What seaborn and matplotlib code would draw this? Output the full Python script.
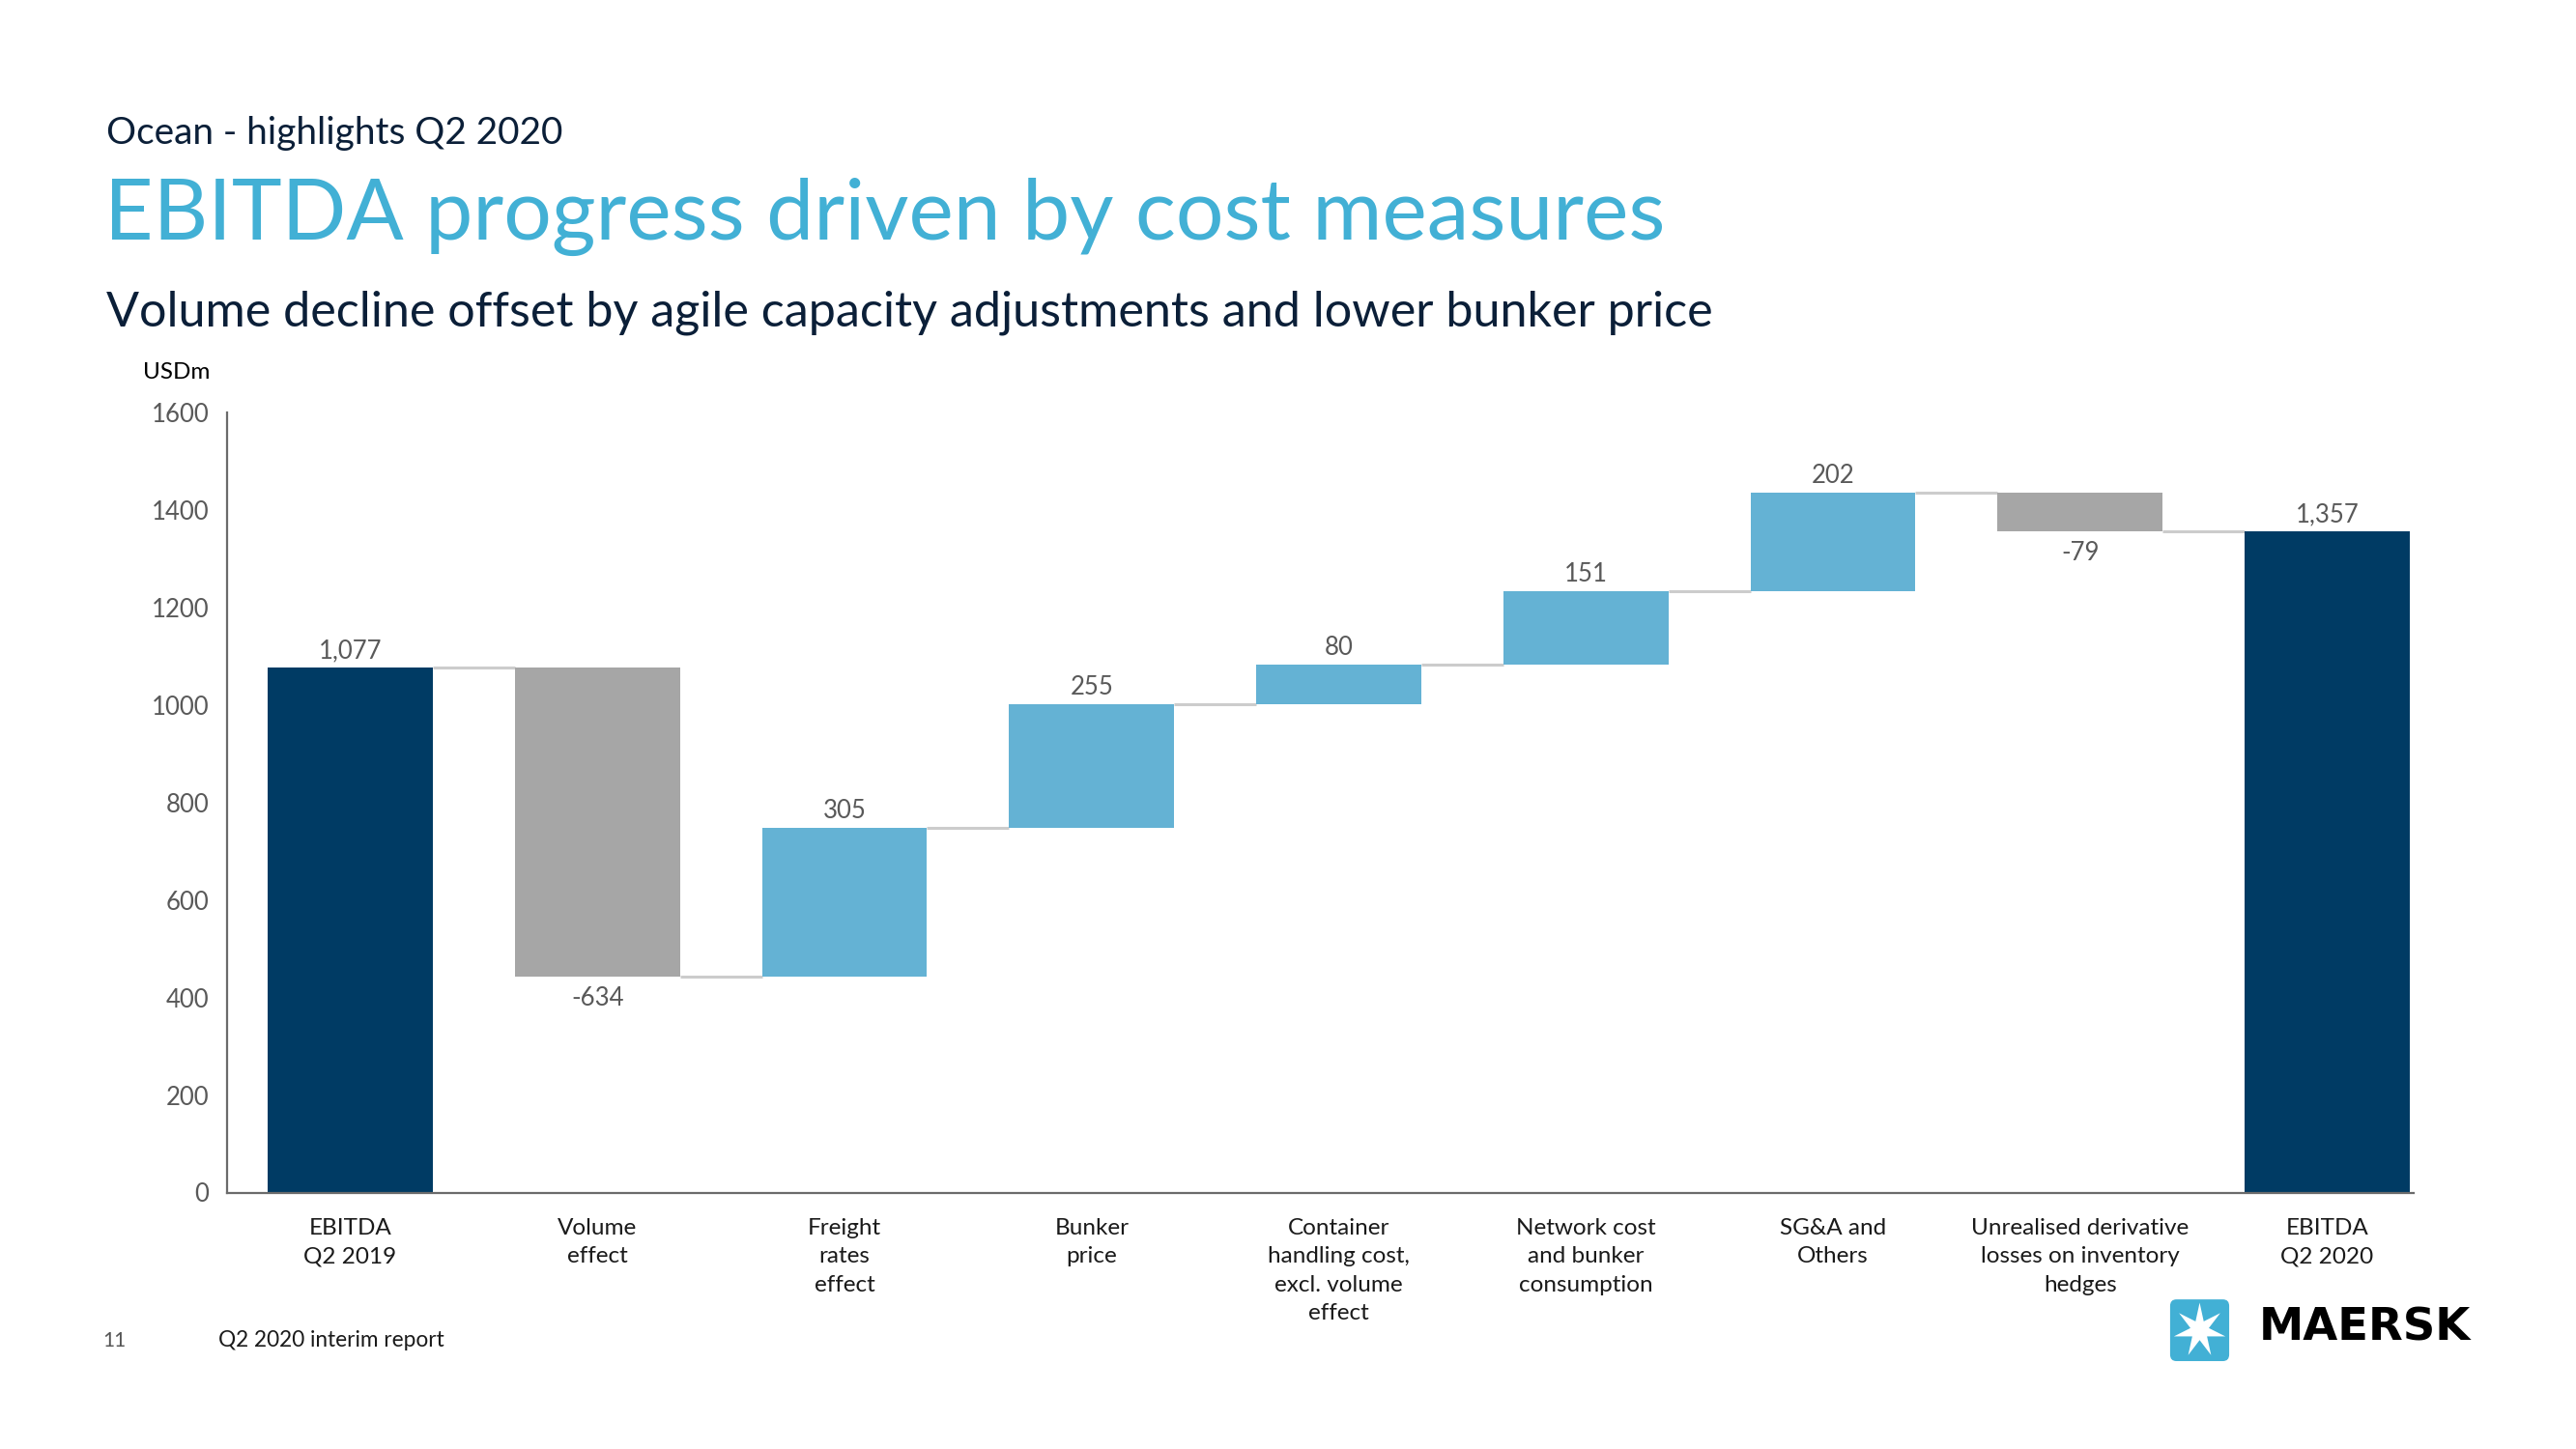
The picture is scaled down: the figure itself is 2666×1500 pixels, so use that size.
#%% Biblioteke
import numpy as np
import pandas as pd
import matplotlib.pyplot as plt
from matplotlib.patches import FancyBboxPatch, Polygon
import seaborn as sns

#%% Podaci
categories = ['EBITDA\nQ2 2019', 'Volume\neffect', 'Freight\nrates\neffect', 'Bunker\nprice',
              'Container\nhandling cost,\nexcl. volume\neffect', 'Network cost\nand bunker\nconsumption',
              'SG&A and\nOthers', 'Unrealised derivative\nlosses on inventory\nhedges', 'EBITDA\nQ2 2020']
values = [1077, -634, 305, 255, 80, 151, 202, -79, 1357]
kinds = ['total', 'delta', 'delta', 'delta', 'delta', 'delta', 'delta', 'delta', 'total']
value_labels = ['1,077', '-634', '305', '255', '80', '151', '202', '-79', '1,357']
yticks = [0, 200, 400, 600, 800, 1000, 1200, 1400, 1600]

navy = '#003B64'
light_blue = '#64B2D4'
grey = '#A6A6A6'
maersk_blue = '#42B0D5'
dark_text = '#0B1F38'

#%% Racunanje pozicija waterfall barova
bottoms, heights, levels = [], [], []
running = 0
for v, k in zip(values, kinds):
    if k == 'total':
        bottoms.append(0)
        heights.append(v)
        running = v
    else:
        start = running
        running = running + v
        bottoms.append(min(start, running))
        heights.append(abs(v))
    levels.append(running)

colors = [navy if k == 'total' else (light_blue if v > 0 else grey) for v, k in zip(values, kinds)]

df = pd.DataFrame({'kategorija': categories, 'visina': heights, 'dno': bottoms})

#%% Crtanje
sns.set_style('white')
plt.rcParams['font.family'] = ['Lato', 'DejaVu Sans']

fig = plt.figure(figsize=(26.66, 15), dpi=100)
ax = fig.add_axes([0.088, 0.177, 0.849, 0.538])

sns.barplot(data=df, x='kategorija', y='visina', order=categories, bottom=np.array(bottoms),
            width=0.667, color=navy, errorbar=None, saturation=1, ax=ax, zorder=2)
for patch, c in zip(ax.patches, colors):
    patch.set_facecolor(c)
    patch.set_edgecolor('none')

# konektori izmedju barova
half = 0.667 / 2
for i in range(len(values) - 1):
    ax.plot([i + half, i + 1 - half], [levels[i], levels[i]], color='#CCCCCC', lw=2.2,
            solid_capstyle='butt', zorder=1)

# oznake vrednosti
for i, (v, k, lab) in enumerate(zip(values, kinds, value_labels)):
    top = bottoms[i] + heights[i]
    if v >= 0:
        t = ax.annotate(lab, (i, top), xytext=(0, 3.5), textcoords='offset points',
                        ha='center', va='bottom', fontsize=18.5, color='#595959', zorder=4)
        if i == len(values) - 1:
            t.set_bbox(dict(facecolor='white', edgecolor='none', pad=1))
    else:
        ax.annotate(lab, (i, bottoms[i]), xytext=(0, -7), textcoords='offset points',
                    ha='center', va='top', fontsize=18.5, color='#595959')

ax.set_xlim(-0.5, 8.35)
ax.set_ylim(0, 1600)
ax.set_yticks(yticks)
ax.set_yticklabels([str(t) for t in yticks], fontsize=18.5, color='#595959')
ax.set_xticks(range(len(categories)))
ax.set_xticklabels(categories, fontsize=17.5, color='#1A1A1A', linespacing=1.5, va='top')
ax.tick_params(axis='y', length=0, pad=13)
ax.tick_params(axis='x', length=0, pad=19)
ax.set_xlabel('')
ax.set_ylabel('')
sns.despine(ax=ax)
for s in ['left', 'bottom']:
    ax.spines[s].set_color('#6B6B6B')
    ax.spines[s].set_linewidth(1.6)

#%% Naslovi i tekst
fig.text(0.0413, 0.901, 'Ocean - highlights Q2 2020', fontsize=27.9, color=dark_text, va='baseline')
fig.text(0.0405, 0.835, 'EBITDA progress driven by cost measures', fontsize=63.2, color=maersk_blue,
         va='baseline')
fig.text(0.0413, 0.775, 'Volume decline offset by agile capacity adjustments and lower bunker price',
         fontsize=36.2, color=dark_text, va='baseline')
fig.text(0.0685, 0.743, 'USDm', fontsize=17.5, color='black', ha='center', va='center')
fig.text(0.0445, 0.075, '11', fontsize=15, color='#555555', ha='center', va='center')
fig.text(0.0848, 0.075, 'Q2 2020 interim report', fontsize=16.3, color='#1A1A1A', va='center')

#%% Logo
lax = fig.add_axes([0.8417, 0.0593, 0.0244, 0.0453])
lax.set_xlim(0, 1)
lax.set_ylim(0, 1)
lax.axis('off')
lax.add_patch(FancyBboxPatch((0.03, 0.03), 0.94, 0.94, boxstyle='round,pad=0,rounding_size=0.1',
                             facecolor=maersk_blue, edgecolor='none'))
ang = np.pi / 2 + np.arange(14) * np.pi / 7
rad = np.where(np.arange(14) % 2 == 0, 0.42, 0.15)
lax.add_patch(Polygon(np.column_stack([0.5 + rad * np.cos(ang), 0.5 + rad * np.sin(ang)]),
                      closed=True, facecolor='white', edgecolor='none'))
fig.text(0.877, 0.0833, 'MAERSK', fontsize=33.5, fontweight='bold', color='black',
         family=['DejaVu Sans'], va='center')

plt.savefig('out.png', dpi=100)
